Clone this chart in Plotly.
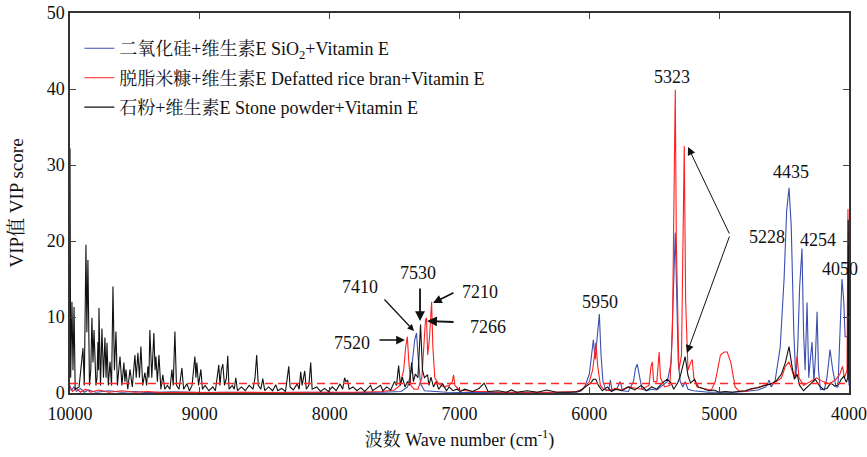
import plotly.graph_objects as go

# ---------------- data ----------------
black_x = [10000, 9995, 9985, 9977, 9969, 9960, 9930, 9915, 9900, 9890, 9877, 9870, 9862, 9850, 9840,
           9831, 9823, 9815, 9800, 9792, 9785, 9780, 9777, 9765, 9754, 9742, 9731, 9722, 9715, 9705,
           9692, 9680, 9669, 9658, 9646, 9635, 9615, 9600, 9585, 9577, 9569, 9555, 9538, 9520, 9500,
           9490, 9477, 9465, 9454, 9440, 9423, 9410, 9400, 9392, 9385, 9370, 9354, 9345, 9338, 9327,
           9315, 9300, 9285, 9270, 9250, 9230, 9215, 9205, 9192, 9180, 9160, 9138, 9125, 9100, 9080,
           9060, 9038, 9030, 9023, 9010, 8992, 8980, 8960, 8930, 8900, 8880, 8866, 8854, 8845, 8835,
           8823, 8810, 8795, 8785, 8775, 8750, 8735, 8723, 8710, 8680, 8650, 8620, 8590, 8575, 8562,
           8550, 8530, 8515, 8500, 8470, 8440, 8415, 8400, 8370, 8340, 8315, 8305, 8280, 8250, 8235,
           8223, 8212, 8192, 8180, 8160, 8146, 8135, 8100, 8070, 8040, 8010, 7980, 7950, 7920, 7900,
           7885, 7875, 7862, 7850, 7820, 7790, 7760, 7730, 7700, 7685, 7670, 7640, 7608, 7590, 7560,
           7530, 7500, 7485, 7469, 7455, 7440, 7420, 7400, 7385, 7369, 7355, 7340, 7320, 7300, 7285,
           7270, 7246, 7235, 7220, 7200, 7180, 7160, 7130, 7100, 7080, 7050, 7020, 6990, 6960, 6900,
           6850, 6810, 6780, 6700, 6640, 6600, 6560, 6480, 6400, 6330, 6250, 6150, 6080, 6030, 5990,
           5969, 5950, 5930, 5900, 5860, 5830, 5800, 5750, 5700, 5650, 5600, 5560, 5520, 5480, 5440,
           5400, 5370, 5350, 5320, 5300, 5262, 5240, 5220, 5190, 5160, 5120, 5080, 5040, 5000, 4950,
           4900, 4850, 4800, 4750, 4700, 4650, 4600, 4560, 4520, 4490, 4462, 4440, 4420, 4400, 4380,
           4350, 4320, 4290, 4260, 4230, 4200, 4170, 4140, 4110, 4080, 4060, 4040, 4020, 4010, 4006,
           4000]
black_y = [32.2, 2.0, 12.0, 3.0, 11.3, 0.5, 0.8, 3.0, 5.9, 1.0, 19.5, 8.0, 17.5, 1.0, 3.0,
           9.9, 4.0, 8.3, 1.0, 2.0, 6.7, 3.0, 11.2, 1.0, 8.5, 2.0, 7.3, 2.0, 6.6, 1.0,
           4.1, 1.0, 14.0, 3.0, 8.1, 1.0, 4.8, 1.0, 4.0, 1.5, 3.1, 0.5, 3.1, 0.8, 5.0,
           2.0, 5.3, 2.0, 6.1, 1.0, 2.7, 1.0, 3.5, 2.0, 8.3, 2.0, 7.9, 3.0, 4.8, 1.5,
           5.0, 0.5, 2.4, 0.5, 1.0, 0.5, 3.1, 1.0, 8.1, 1.0, 0.5, 3.3, 0.5, 1.2, 0.3,
           1.0, 4.8, 2.0, 4.0, 1.0, 3.1, 0.5, 1.0, 0.3, 0.8, 0.3, 2.5, 3.7, 1.0, 3.0,
           3.8, 1.0, 2.0, 4.9, 0.5, 1.0, 0.5, 2.0, 0.3, 0.8, 0.3, 1.0, 0.5, 2.0, 5.0,
           1.0, 0.5, 1.9, 0.3, 0.8, 0.3, 1.1, 0.3, 0.6, 0.2, 3.5, 0.8, 0.4, 1.2, 0.5,
           2.8, 1.0, 2.9, 0.5, 1.0, 4.0, 0.5, 0.8, 0.2, 0.6, 0.2, 0.8, 0.3, 1.2, 0.5,
           2.0, 1.5, 1.7, 0.5, 0.8, 0.3, 0.7, 0.2, 0.8, 1.0, 0.3, 0.6, 1.0, 0.3, 0.8,
           0.4, 1.5, 1.0, 3.6, 1.0, 2.1, 0.8, 1.5, 1.0, 4.0, 1.5, 2.5, 2.0, 9.0, 3.0,
           2.0, 2.4, 1.0, 2.1, 0.8, 1.5, 0.5, 1.2, 0.3, 0.8, 0.3, 0.5, 0.2, 0.5, 0.2,
           0.6, 1.3, 0.2, 0.3, 0.1, 0.4, 0.1, 0.3, 0.1, 0.4, 0.1, 0.1, 0.2, 0.8, 1.3,
           1.8, 1.8, 1.0, 0.3, 0.8, 0.2, 0.5, 0.3, 0.8, 0.4, 1.0, 0.3, 0.8, 0.5, 1.3,
           1.8, 1.3, 0.5, 1.3, 2.2, 4.8, 2.3, 1.3, 1.8, 0.8, 0.6, 0.3, 0.4, 0.1, 0.2,
           0.1, 0.2, 0.3, 0.6, 0.7, 1.0, 1.2, 1.6, 2.5, 4.0, 6.1, 3.6, 1.8, 2.5, 1.0,
           0.3, 0.8, 1.3, 1.8, 1.0, 0.5, 0.6, 1.3, 0.9, 1.1, 1.8, 2.2, 1.4, 2.0, 22.8,
           1.5]

blue_x = [10000, 9990, 9970, 9950, 9920, 9890, 9860, 9800, 9700, 9600, 9500, 9400, 9200, 9000, 8800,
          8500, 8200, 7900, 7600, 7450, 7400, 7370, 7345, 7331, 7320, 7300, 7270, 7200, 7100, 6900,
          6600, 6300, 6100, 6060, 6031, 6000, 5985, 5969, 5955, 5940, 5923, 5910, 5895, 5870, 5850,
          5838, 5825, 5790, 5762, 5745, 5700, 5660, 5645, 5631, 5615, 5595, 5560, 5520, 5480, 5440,
          5400, 5370, 5355, 5345, 5338, 5330, 5315, 5300, 5280, 5262, 5240, 5200, 5150, 5080, 5000,
          4900, 4800, 4700, 4640, 4615, 4600, 4570, 4530, 4500, 4480, 4462, 4445, 4425, 4410, 4395,
          4380, 4362, 4350, 4338, 4323, 4310, 4300, 4285, 4270, 4258, 4246, 4235, 4220, 4190, 4170,
          4146, 4125, 4100, 4085, 4070, 4054, 4040, 4030, 4010, 4005, 4000]
blue_y = [1.0, 0.3, 0.8, 0.2, 0.6, 0.1, 0.4, 0.1, 0.3, 0.1, 0.2, 0.05, 0.15, 0.05, 0.1,
          0.05, 0.1, 0.05, 0.1, 0.2, 0.8, 3.0, 7.0, 7.9, 5.0, 1.2, 0.3, 0.2, 0.1, 0.05,
          0.05, 0.05, 0.1, 0.3, 1.0, 2.5, 5.0, 7.0, 4.4, 7.5, 10.4, 5.0, 1.5, 0.3, 0.5,
          1.7, 0.3, 0.5, 1.5, 0.3, 0.2, 1.5, 3.2, 3.8, 2.5, 0.5, 0.3, 0.5, 0.4, 1.0,
          1.5, 4.0, 12.0, 18.0, 21.1, 15.0, 4.0, 1.5, 0.8, 1.5, 0.5, 0.3, 0.2, 0.1, 0.1,
          0.1, 0.2, 0.4, 0.8, 1.7, 0.8, 1.5, 6.0, 15.0, 24.0, 27.0, 22.0, 8.0, 2.0, 6.0,
          14.0, 19.0, 8.0, 3.0, 11.9, 2.0, 4.0, 6.7, 1.5, 5.0, 10.7, 3.0, 0.5, 0.4, 2.0,
          5.7, 3.0, 0.8, 0.8, 8.0, 15.0, 12.0, 7.4, 7.4, 2.0, 1.0]

red_x = [10000, 9980, 9950, 9920, 9880, 9840, 9780, 9700, 9600, 9500, 9400, 9300, 9100, 8900, 8700,
         8400, 8100, 7800, 7600, 7500, 7460, 7430, 7415, 7402, 7390, 7375, 7350, 7320, 7290, 7270,
         7262, 7254, 7245, 7232, 7222, 7215, 7205, 7190, 7160, 7120, 7080, 7055, 7046, 7035, 7000,
         6950, 6900, 6800, 6700, 6500, 6300, 6100, 6050, 6000, 5975, 5960, 5950, 5935, 5915, 5890,
         5850, 5800, 5750, 5700, 5600, 5540, 5525, 5515, 5505, 5480, 5470, 5462, 5452, 5420, 5380,
         5360, 5345, 5338, 5330, 5310, 5290, 5278, 5269, 5258, 5240, 5220, 5208, 5195, 5170, 5120,
         5060, 5030, 5015, 4990, 4960, 4938, 4910, 4890, 4877, 4850, 4800, 4750, 4700, 4650, 4600,
         4560, 4520, 4490, 4462, 4440, 4420, 4400, 4385, 4350, 4300, 4250, 4200, 4150, 4100, 4070,
         4050, 4035, 4015, 4008, 4004, 4000]
red_y = [0.8, 0.2, 0.6, 0.1, 0.5, 0.1, 0.4, 0.1, 0.3, 0.1, 0.2, 0.05, 0.1, 0.05, 0.1,
         0.05, 0.1, 0.1, 0.2, 0.4, 1.0, 3.0, 6.0, 7.4, 4.0, 1.0, 0.5, 0.5, 2.0, 7.0,
         9.6, 9.9, 5.0, 7.0, 11.0, 12.0, 6.0, 2.0, 1.2, 0.8, 1.0, 1.5, 2.4, 1.0, 0.4,
         0.3, 0.2, 0.2, 0.1, 0.1, 0.1, 0.2, 0.5, 1.5, 3.0, 5.0, 6.6, 3.5, 1.0, 0.5,
         0.3, 0.6, 0.4, 0.8, 0.5, 1.0, 3.5, 4.1, 1.5, 1.5, 4.5, 5.4, 2.0, 0.8, 1.0,
         8.0, 30.0, 39.9, 20.0, 3.0, 5.0, 25.0, 32.5, 12.0, 3.0, 4.0, 4.4, 2.0, 0.8, 0.6,
         0.4, 1.5, 3.0, 5.0, 5.4, 5.4, 4.0, 2.0, 0.8, 0.3, 0.2, 0.5, 0.8, 1.0, 1.2,
         1.5, 2.0, 3.5, 4.1, 3.0, 2.0, 4.8, 2.0, 1.0, 1.5, 2.0, 1.5, 1.2, 1.8, 2.5,
         3.5, 2.0, 3.0, 24.2, 6.0, 3.0]

threshold = 1.25

names = ["二氧化硅+维生素E SiO<sub>2</sub>+Vitamin E",
         "脱脂米糠+维生素E Defatted rice bran+Vitamin E",
         "石粉+维生素E Stone powder+Vitamin E"]
colors = ["#3a4fb0", "#ff1f1f", "#111111"]

x_ticks = [10000, 9000, 8000, 7000, 6000, 5000, 4000]
x_tick_text = ["10000", "9000", "8000", "7000", "6000", "5000", "4000"]
y_ticks = [0, 10, 20, 30, 40, 50]

# peak labels: (text, x, y)
labels = [("7520", 7828, 6.6), ("7410", 7766, 13.9), ("7530", 7320, 15.8),
          ("7210", 6842, 13.3), ("7266", 6781, 8.7), ("5950", 5918, 12.0),
          ("5323", 5363, 41.6), ("4435", 4447, 29.1), ("5228", 4632, 20.5),
          ("4254", 4239, 20.1), ("4050", 4069, 16.3)]
# arrows: (head x, head y, tail dx px, tail dy px, width)
arrows = [(7420, 6.97, -27, 0, 1.6), (7350, 8.16, -31, -33, 1.2), (7304, 9.47, 0, -34, 1.8),
          (7204, 11.84, 22, -11, 1.6), (7250, 9.47, 28, 1, 1.8),
          (5240, 32.37, 42, 88, 1.0), (5248, 5.26, 43, -118, 1.0)]

FONT = "Liberation Serif, Times New Roman, Noto Serif CJK SC, Noto Sans CJK SC, serif"
FS = 18

fig = go.Figure()
for i, (xs, ys) in enumerate([(blue_x, blue_y), (red_x, red_y), (black_x, black_y)]):
    fig.add_trace(go.Scatter(x=xs, y=ys, mode="lines", name=names[i], legendgroup=f"g{i}",
                             line=dict(color=colors[i], width=1.1)))
fig.add_trace(go.Scatter(x=[x_ticks[0], x_ticks[-1]], y=[threshold, threshold], mode="lines",
                         showlegend=False, line=dict(color="#ff2a2a", width=1.5, dash="8px,5px")))

annotations = []
for t, x, y in labels:
    annotations.append(dict(x=x, y=y, xref="x", yref="y", text=t, showarrow=False,
                            font=dict(family=FONT, size=FS, color="#111")))
for hx, hy, dx, dy, w in arrows:
    annotations.append(dict(x=hx, y=hy, xref="x", yref="y", text="", showarrow=True,
                            ax=dx, ay=dy, arrowhead=2, arrowsize=1.1 if w > 1.1 else 1.6,
                            arrowwidth=w, arrowcolor="#111", standoff=0, startstandoff=0))

fig.update_layout(
    width=867, height=457,
    margin=dict(l=70, r=18, t=13, b=64),
    paper_bgcolor="white", plot_bgcolor="white",
    font=dict(family=FONT, size=FS, color="#111"),
    showlegend=True,
    legend=dict(x=0.012, y=0.955, xanchor="left", yanchor="top", bgcolor="rgba(0,0,0,0)",
                traceorder="grouped", tracegroupgap=3,
                font=dict(family=FONT, size=FS, color="#111")),
    annotations=annotations,
)
fig.update_xaxes(range=[10000, 4000], tickvals=x_ticks, ticktext=x_tick_text,
                 ticks="inside", ticklen=6, automargin=False, ticklabelstandoff=4,
                 showline=True, linecolor="#333", linewidth=1.5, mirror="ticks",
                 showgrid=False, zeroline=False,
                 title=dict(text="波数 Wave number (cm<sup>-1</sup>)", standoff=10,
                            font=dict(family=FONT, size=FS)),
                 tickfont=dict(family=FONT, size=FS))
fig.update_yaxes(range=[0, 50], tickvals=y_ticks, ticks="inside", ticklen=6, automargin=False,
                 showline=True, linecolor="#333", linewidth=1.5, mirror="ticks",
                 showgrid=False, zeroline=False,
                 title=dict(text="VIP值 VIP score", standoff=18,
                            font=dict(family=FONT, size=19)),
                 tickfont=dict(family=FONT, size=FS))

fig.write_html("out.html")
